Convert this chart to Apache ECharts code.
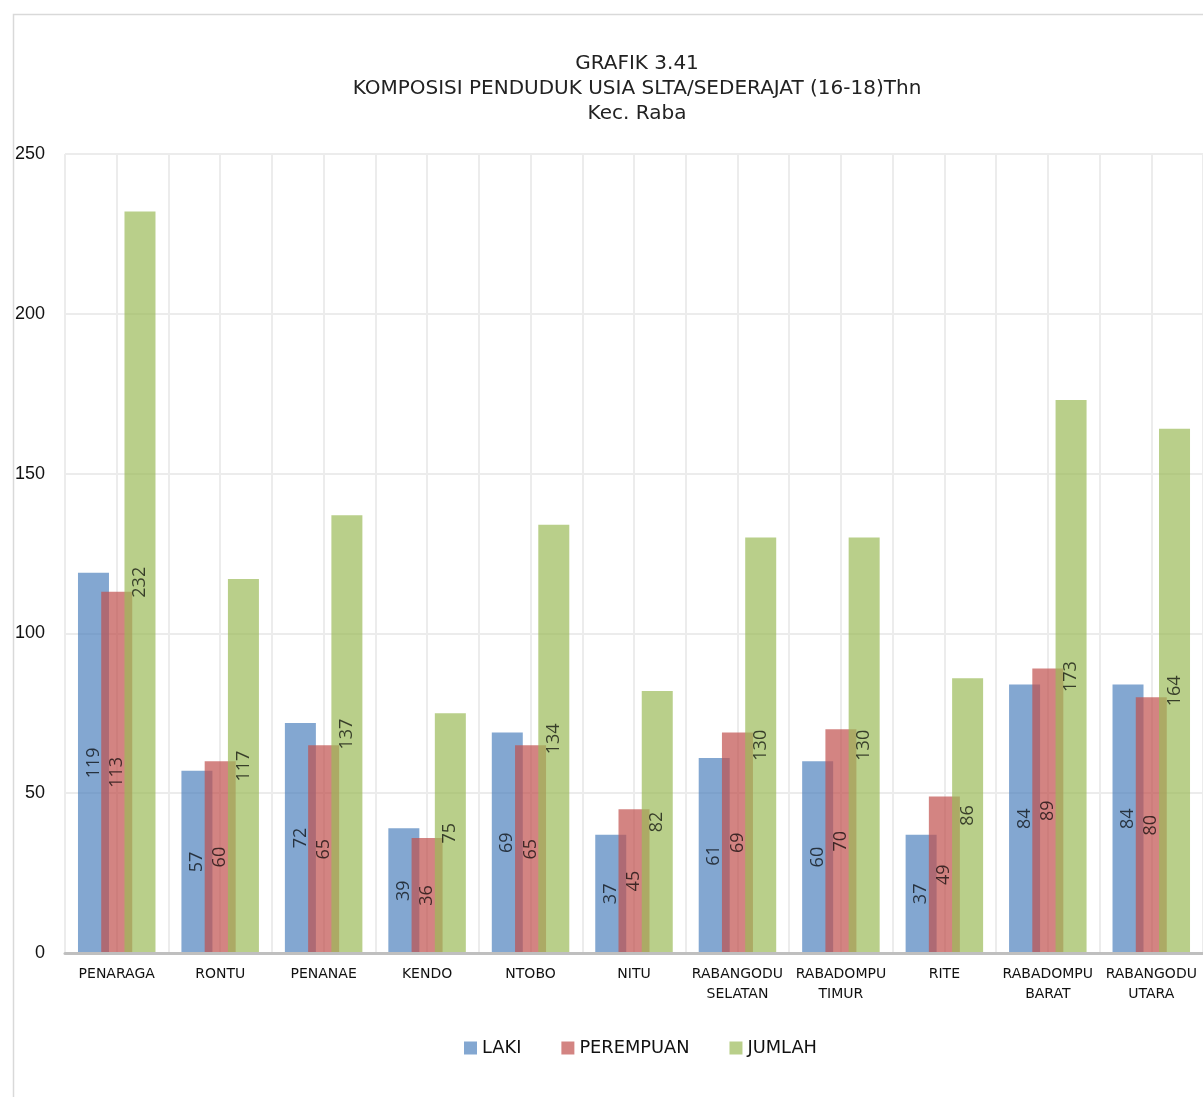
<!DOCTYPE html>
<html><head><meta charset="utf-8">
<script src="https://cdn.jsdelivr.net/npm/echarts@6/dist/echarts.min.js"></script>
<style>html,body{margin:0;padding:0;background:#fff}#c{width:1203px;height:1097px}</style>
</head><body><div id="c"></div>
<script>
const categories = ['PENARAGA','RONTU','PENANAE','KENDO','NTOBO','NITU','RABANGODU\nSELATAN','RABADOMPU\nTIMUR','RITE','RABADOMPU\nBARAT','RABANGODU\nUTARA'];
const laki = [119,57,72,39,69,37,61,60,37,84,84];
const perempuan = [113,60,65,36,65,45,69,70,49,89,80];
const jumlah = [232,117,137,75,134,82,130,130,86,173,164];
const seriesNames = ['LAKI','PEREMPUAN','JUMLAH'];
const yTicks = [0,50,100,150,200,250];

const halfCats = [];
categories.forEach((c,i)=>{halfCats.push('a'+i); halfCats.push('b'+i);});

const chart = echarts.init(document.getElementById('c'), null, {renderer:'canvas'});
const lbl = {show:true, position:'inside', rotate:90, color:'#000', fontSize:18, fontFamily:'Open Sans'};
const mk = (name, data, color) => ({
  name, type:'bar', data, xAxisIndex:0, barWidth:31, barGap:'-25%',
  itemStyle:{color, opacity:0.7}, label:lbl, emphasis:{disabled:true}
});
chart.setOption({
  animation:false,
  backgroundColor:'#fff',
  graphic:[{type:'rect', shape:{x:13.5,y:14.5,width:1300,height:1200}, style:{fill:'none', stroke:'#d9d9d9', lineWidth:1.5}, z:-10}],
  title:{text:'GRAFIK 3.41\nKOMPOSISI PENDUDUK USIA SLTA/SEDERAJAT (16-18)Thn\nKec. Raba', left:632, top:46, textAlign:'center',
    textStyle:{fontFamily:'DejaVu Sans', fontSize:20, fontWeight:'normal', color:'#222', lineHeight:25}},
  legend:{data:seriesNames, bottom:35, left:459, itemWidth:13, itemHeight:13, itemGap:40, icon:'rect',
    textStyle:{fontFamily:'DejaVu Sans', fontSize:17.8, color:'#111'}},
  grid:{left:65, right:0, top:154, bottom:144, containLabel:false},
  xAxis:[{type:'category', data:categories, axisTick:{show:false},
    axisLine:{lineStyle:{color:'#bfbfbf', width:3}},
    axisLabel:{fontFamily:'DejaVu Sans', fontSize:14, color:'#111', margin:11, lineHeight:20, interval:0},
    splitLine:{show:false}, z:5},
   {type:'category', data:halfCats, show:true, position:'bottom', axisLine:{show:false}, axisTick:{show:false}, axisLabel:{show:false},
    splitLine:{show:true, lineStyle:{color:'#ececec', width:2}}}],
  yAxis:{type:'value', min:0, max:250, interval:50, axisLine:{show:false}, axisTick:{show:false},
    axisLabel:{fontFamily:'Liberation Sans', fontSize:18, color:'#111', margin:20,
      formatter:v=>yTicks.includes(v)?String(v):''},
    splitLine:{lineStyle:{color:'#ececec', width:2}}},
  series:[mk(seriesNames[0], laki, '#4F81BD'), mk(seriesNames[1], perempuan, '#C0504D'), mk(seriesNames[2], jumlah, '#9BBB59')]
});
</script></body></html>
